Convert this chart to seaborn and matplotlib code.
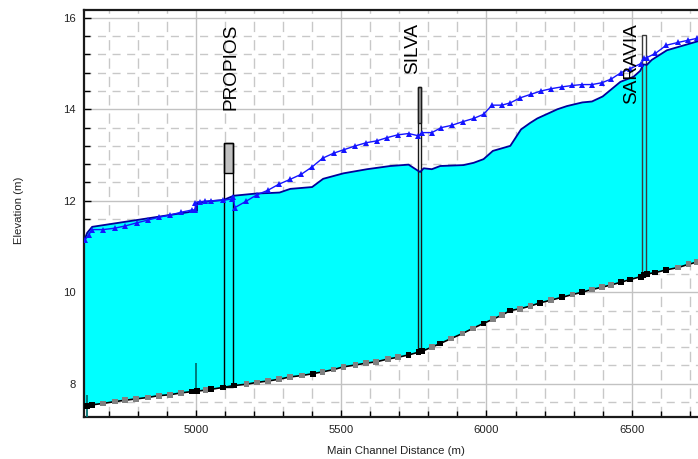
import numpy as np
import pandas as pd
import matplotlib
matplotlib.use("Agg")
import matplotlib.pyplot as plt
from matplotlib.patches import Rectangle
from matplotlib.ticker import MultipleLocator
import seaborn as sns

# ---------------- data ----------------
bed_station = [4617, 4626, 4643, 4681, 4721, 4757, 4795, 4834, 4872, 4910,
               4949, 4987, 5000, 5004, 5033, 5053, 5094, 5130, 5174, 5210,
               5248, 5287, 5325, 5365, 5402, 5436, 5474, 5508, 5549, 5585,
               5621, 5660, 5696, 5732, 5766, 5778, 5812, 5841, 5879, 5918,
               5953, 5990, 6022, 6053, 6082, 6116, 6152, 6185, 6223, 6260,
               6296, 6328, 6363, 6397, 6429, 6463, 6495, 6531, 6540, 6552,
               6581, 6619, 6659, 6695, 6724, 6745]
bed_elev = [7.51, 7.52, 7.54, 7.57, 7.61, 7.64, 7.67, 7.70, 7.74, 7.76,
            7.80, 7.83, 7.83, 7.84, 7.86, 7.88, 7.92, 7.96, 7.99, 8.03,
            8.06, 8.10, 8.15, 8.18, 8.22, 8.26, 8.31, 8.37, 8.41, 8.45,
            8.48, 8.54, 8.58, 8.63, 8.69, 8.71, 8.80, 8.88, 8.99, 9.10,
            9.21, 9.32, 9.41, 9.50, 9.60, 9.64, 9.70, 9.77, 9.83, 9.89,
            9.95, 10.00, 10.06, 10.11, 10.16, 10.22, 10.28, 10.34, 10.37, 10.40,
            10.43, 10.49, 10.54, 10.61, 10.66, 10.70]
bed_kind = ["black", "black", "black", "gray", "gray", "gray", "gray", "gray", "gray", "gray",
            "gray", "black", "black", "black", "gray", "black", "black", "black", "gray", "gray",
            "gray", "gray", "gray", "gray", "black", "gray", "gray", "gray", "gray", "gray",
            "gray", "gray", "gray", "black", "black", "black", "gray", "black", "gray", "gray",
            "gray", "black", "gray", "gray", "black", "gray", "gray", "black", "gray", "black",
            "gray", "black", "gray", "gray", "gray", "black", "black", "black", "black", "black",
            "black", "black", "gray", "gray", "gray", "gray"]

ws_station = [4616, 4626, 4643, 5004, 5004, 5096, 5130, 5210, 5256, 5288,
              5325, 5400, 5438, 5508, 5589, 5669, 5732, 5766, 5772, 5784,
              5812, 5841, 5921, 5956, 5990, 6022, 6082, 6119, 6150, 6175,
              6220, 6244, 6277, 6330, 6363, 6400, 6461, 6506, 6529, 6540,
              6552, 6569, 6621, 6724, 6745]
ws_elev = [11.14, 11.30, 11.43, 11.78, 11.96, 12.02, 12.11, 12.16, 12.17, 12.18,
           12.26, 12.30, 12.48, 12.60, 12.69, 12.76, 12.79, 12.65, 12.63, 12.71,
           12.69, 12.76, 12.78, 12.83, 12.91, 13.09, 13.20, 13.56, 13.70, 13.80,
           13.93, 14.00, 14.07, 14.15, 14.17, 14.28, 14.60, 14.71, 14.84, 14.98,
           14.97, 15.08, 15.29, 15.48, 15.52]

egl_station = [4619, 4631, 4643, 4681, 4720, 4757, 4798, 4836, 4872, 4912,
               4950, 4987, 4998, 4998, 5013, 5033, 5053, 5094, 5124, 5128,
               5134, 5173, 5210, 5248, 5285, 5325, 5363, 5400, 5436, 5474,
               5511, 5549, 5587, 5623, 5658, 5694, 5732, 5766, 5778, 5812,
               5845, 5881, 5919, 5956, 5990, 6019, 6053, 6082, 6116, 6154,
               6188, 6223, 6260, 6296, 6328, 6363, 6397, 6429, 6463, 6495,
               6532, 6543, 6552, 6581, 6619, 6659, 6695, 6724]
egl_elev = [11.15, 11.25, 11.37, 11.37, 11.40, 11.45, 11.52, 11.58, 11.64, 11.69,
            11.75, 11.80, 11.80, 11.96, 11.98, 11.99, 12.00, 12.01, 12.04, 12.09,
            11.85, 11.99, 12.13, 12.23, 12.36, 12.47, 12.58, 12.74, 12.93, 13.04,
            13.12, 13.20, 13.27, 13.31, 13.38, 13.44, 13.47, 13.42, 13.49, 13.49,
            13.60, 13.65, 13.73, 13.80, 13.89, 14.09, 14.09, 14.14, 14.25, 14.33,
            14.40, 14.45, 14.49, 14.52, 14.54, 14.54, 14.58, 14.66, 14.80, 14.89,
            15.00, 15.11, 15.13, 15.22, 15.40, 15.46, 15.51, 15.55]

struct_names = ["PROPIOS", "SILVA", "SARAVIA"]
struct_left = [5096, 5766, 6535]
struct_right = [5127, 5776, 6549]
struct_base = [7.93, 8.69, 10.36]
struct_top = [13.27, 14.49, 15.62]
struct_deck_low = [12.61, 13.71, 15.62]
struct_edge = ["#000000", "#1a1a1a", "#3a3a3a"]
label_station = [5122, 5746, 6500]
label_top = 15.88

mark_station = [4625, 5000]
mark_low = [7.28, 7.83]
mark_high = [7.75, 8.46]

x_limits = (4615, 6728)
y_limits = (7.28, 16.17)

# ---------------- style ----------------
sns.set_theme(style="white")
plt.rcParams['font.family'] = ['Liberation Sans', 'DejaVu Sans']

W, H = 698, 459
fig = plt.figure(figsize=(W / 100, H / 100), dpi=100)
ax = fig.add_axes([84 / W, (H - 416.7) / H, (W - 84) / W, (416.7 - 10) / H])

ax.set_xlim(*x_limits)
ax.set_ylim(*y_limits)
ax.xaxis.set_major_locator(MultipleLocator(500))
ax.xaxis.set_minor_locator(MultipleLocator(100))
ax.yaxis.set_major_locator(MultipleLocator(2))
ax.yaxis.set_minor_locator(MultipleLocator(0.4))
ax.set_axisbelow(True)
ax.grid(which='major', color='#c2c2c2', lw=1.0, ls='-')
ax.xaxis.grid(which='minor', color='#c8c8c8', lw=1.0, ls=(12.9, (7.4, 5.8)))
ax.yaxis.grid(which='minor', color='#c8c8c8', lw=1.0, ls=(0.8, (5.8, 4.7)))

# structures white background
for l, r, b, t in zip(struct_left, struct_right, struct_base, struct_top):
    ax.add_patch(Rectangle((l, b), r - l, t - b, facecolor='white',
                           edgecolor='none', zorder=0.9))

# water
poly_x = list(ws_station) + list(bed_station[::-1])
poly_y = list(ws_elev) + list(bed_elev[::-1])
ax.fill(poly_x, poly_y, color='#00FFFF', lw=0, zorder=1)

# decks and outlines
for l, r, b, t, d, ec in zip(struct_left, struct_right, struct_base, struct_top,
                             struct_deck_low, struct_edge):
    if t > d:
        ax.add_patch(Rectangle((l, d), r - l, t - d, facecolor='#c0c0c0',
                               edgecolor=ec, lw=1.0, zorder=3))
    ax.add_patch(Rectangle((l, b), r - l, t - b, facecolor='none',
                           edgecolor=ec, lw=1.0, zorder=3.1))

ax.vlines(mark_station, mark_low, mark_high, color='#007272', lw=1.3, zorder=3)

sns.lineplot(x=ws_station, y=ws_elev, sort=False, estimator=None,
             color='#00009a', lw=1.3, ax=ax, zorder=4)
sns.lineplot(x=egl_station, y=egl_elev, sort=False, estimator=None,
             color='#1414ff', lw=1.0, marker='^', markersize=4.5,
             markeredgewidth=0, ax=ax, zorder=5)
sns.lineplot(x=bed_station, y=bed_elev, sort=False, estimator=None,
             color='black', lw=1.2, ax=ax, zorder=5)
sns.scatterplot(x=bed_station, y=bed_elev, hue=bed_kind,
                palette={'black': '#000000', 'gray': '#808080'},
                marker='s', s=17, linewidth=0, legend=False, ax=ax, zorder=6)

for name, xs in zip(struct_names, label_station):
    ax.text(xs, label_top, name, rotation=90, ha='center', va='top',
            fontsize=13.7, color='black', zorder=7)

# axes styling
for side in ['left', 'top', 'bottom']:
    ax.spines[side].set_visible(True)
    ax.spines[side].set_color('#1a1a1a')
    ax.spines[side].set_linewidth(1.6)
ax.spines['right'].set_visible(False)

ax.tick_params(which='both', direction='in', colors='black', labelsize=8.1,
               top=False, right=False, bottom=True, left=True)
ax.tick_params(which='major', length=5, width=1, pad=6)
ax.tick_params(which='minor', length=4, width=1)
for lab in ax.get_xticklabels() + ax.get_yticklabels():
    lab.set_color('#222222')

ax.set_xlabel('Main Channel Distance (m)', fontsize=8.2, color='#222222')
ax.set_ylabel('Elevation (m)', fontsize=8.2, color='#222222')
ax.xaxis.set_label_coords(0.508, -0.072)
ax.yaxis.set_label_coords(-0.098, 0.508)

fig.savefig('out.png', dpi=100, facecolor='white')
